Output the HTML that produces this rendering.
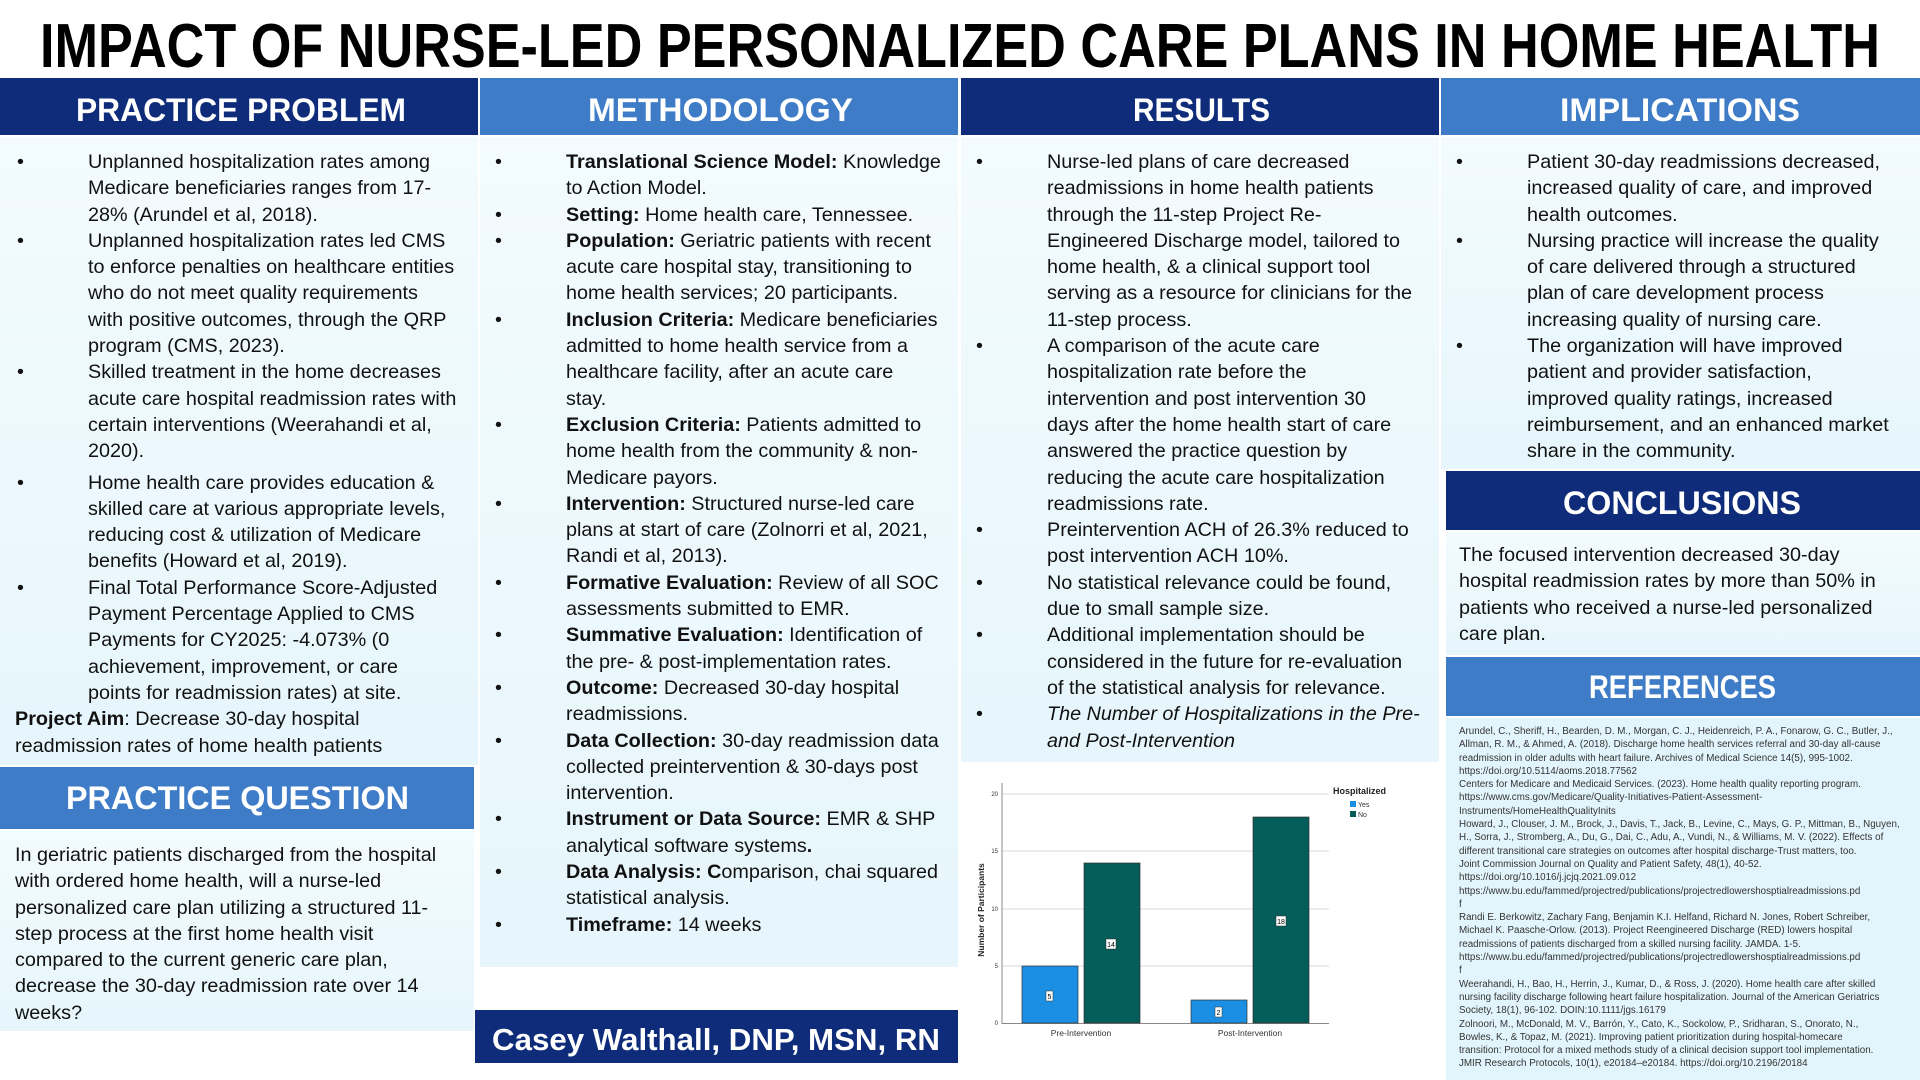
<!DOCTYPE html>
<html><head><meta charset="utf-8">
<style>
*{margin:0;padding:0;box-sizing:border-box}
body{width:1920px;height:1080px;background:#fff;position:relative;overflow:hidden;font-family:"Liberation Sans",Arial,sans-serif;color:#111}
.abs{position:absolute}
.panel{position:absolute;background:linear-gradient(180deg,#f3fbfe,#e6f6fc)}
.col{position:absolute;font-size:19.8px;line-height:26.3px;white-space:nowrap}
.it{position:relative;padding-left:86px}
.it::before{content:"•";position:absolute;left:15px;top:0}
.plain{padding-left:15px}
</style></head><body>
<svg class="abs" style="left:0;top:0" width="1920" height="1080">
<text x="40" y="67" font-family="Liberation Sans" font-weight="bold" font-size="62" textLength="1840" lengthAdjust="spacingAndGlyphs">IMPACT OF NURSE-LED PERSONALIZED CARE PLANS IN HOME HEALTH</text>
</svg>
<div class="abs" style="left:0;top:78px;width:478px;height:57px;background:#0e2c79"></div>
<div class="abs" style="left:480px;top:78px;width:478px;height:57px;background:#3f7cc8"></div>
<div class="abs" style="left:961px;top:78px;width:478px;height:57px;background:#0e2c79"></div>
<div class="abs" style="left:1441px;top:78px;width:479px;height:57px;background:#3f7cc8"></div>
<div class="panel" style="left:0;top:137px;width:478px;height:628px"></div>
<div class="abs" style="left:0;top:767px;width:474px;height:62px;background:#3f7cc8"></div>
<div class="panel" style="left:0;top:831px;width:474px;height:200px"></div>
<div class="panel" style="left:480px;top:137px;width:478px;height:830px"></div>
<div class="abs" style="left:475px;top:1010px;width:483px;height:53px;background:#0e2c79"></div>
<div class="panel" style="left:961px;top:137px;width:478px;height:625px"></div>
<div class="abs" style="left:967px;top:765px;width:472px;height:295px;background:#fff"></div>
<div class="panel" style="left:1441px;top:137px;width:479px;height:332px"></div>
<div class="abs" style="left:1446px;top:471px;width:474px;height:59px;background:#0e2c79"></div>
<div class="panel" style="left:1446px;top:532px;width:474px;height:123px"></div>
<div class="abs" style="left:1446px;top:657px;width:474px;height:59px;background:#3f7cc8"></div>
<div class="panel" style="left:1446px;top:718px;width:474px;height:362px;background:#e3f5fc"></div>

<svg class="abs" style="left:0;top:0" width="1920" height="1080" font-family="Liberation Sans" font-weight="bold" fill="#fff">
<text x="76" y="121" font-size="32" textLength="330" lengthAdjust="spacingAndGlyphs">PRACTICE PROBLEM</text>
<text x="588" y="121" font-size="32" textLength="265" lengthAdjust="spacingAndGlyphs">METHODOLOGY</text>
<text x="1133" y="121" font-size="32" textLength="137" lengthAdjust="spacingAndGlyphs">RESULTS</text>
<text x="1560" y="121" font-size="32" textLength="240" lengthAdjust="spacingAndGlyphs">IMPLICATIONS</text>
<text x="66" y="809" font-size="32" textLength="343" lengthAdjust="spacingAndGlyphs">PRACTICE QUESTION</text>
<text x="1563" y="514" font-size="32" textLength="238" lengthAdjust="spacingAndGlyphs">CONCLUSIONS</text>
<text x="1589" y="698" font-size="32" textLength="187" lengthAdjust="spacingAndGlyphs">REFERENCES</text>
<text x="492" y="1050" font-size="31" textLength="448" lengthAdjust="spacingAndGlyphs">Casey Walthall, DNP, MSN, RN</text>
</svg>

<div class="col" style="left:2px;top:149px">
<div class="it">Unplanned hospitalization rates among<br>Medicare beneficiaries ranges from 17-<br>28% (Arundel et al, 2018).</div>
<div class="it">Unplanned hospitalization rates led CMS<br>to enforce penalties on healthcare entities<br>who do not meet quality requirements<br>with positive outcomes, through the QRP<br>program (CMS, 2023).</div>
<div class="it">Skilled treatment in the home decreases<br>acute care hospital readmission rates with<br>certain interventions (Weerahandi et al,<br>2020).</div>
<div class="it" style="margin-top:5px">Home health care provides education &amp;<br>skilled care at various appropriate levels,<br>reducing cost &amp; utilization of Medicare<br>benefits (Howard et al, 2019).</div>
<div class="it">Final Total Performance Score-Adjusted<br>Payment Percentage Applied to CMS<br>Payments for CY2025: -4.073% (0<br>achievement, improvement, or care<br>points for readmission rates) at site.</div>
<div class="plain" style="padding-left:13px"><b>Project Aim</b>: Decrease 30-day hospital<br>readmission rates of home health patients</div>
</div>

<div class="col" style="left:0;top:842px;padding-left:15px">In geriatric patients discharged from the hospital<br>with ordered home health, will a nurse-led<br>personalized care plan utilizing a structured 11-<br>step process at the first home health visit<br>compared to the current generic care plan,<br>decrease the 30-day readmission rate over 14<br>weeks?</div>

<div class="col" style="left:480px;top:149px">
<div class="it"><b>Translational Science Model:</b> Knowledge<br>to Action Model.</div>
<div class="it"><b>Setting:</b> Home health care, Tennessee.</div>
<div class="it"><b>Population:</b> Geriatric patients with recent<br>acute care hospital stay, transitioning to<br>home health services; 20 participants.</div>
<div class="it"><b>Inclusion Criteria:</b> Medicare beneficiaries<br>admitted to home health service from a<br>healthcare facility, after an acute care<br>stay.</div>
<div class="it"><b>Exclusion Criteria:</b> Patients admitted to<br>home health from the community &amp; non-<br>Medicare payors.</div>
<div class="it"><b>Intervention:</b> Structured nurse-led care<br>plans at start of care (Zolnorri et al, 2021,<br>Randi et al, 2013).</div>
<div class="it"><b>Formative Evaluation:</b> Review of all SOC<br>assessments submitted to EMR.</div>
<div class="it"><b>Summative Evaluation:</b> Identification of<br>the pre- &amp; post-implementation rates.</div>
<div class="it"><b>Outcome:</b> Decreased 30-day hospital<br>readmissions.</div>
<div class="it"><b>Data Collection:</b> 30-day readmission data<br>collected preintervention &amp; 30-days post<br>intervention.</div>
<div class="it"><b>Instrument or Data Source:</b> EMR &amp; SHP<br>analytical software systems<b>.</b></div>
<div class="it"><b>Data Analysis: C</b>omparison, chai squared<br>statistical analysis.</div>
<div class="it"><b>Timeframe:</b> 14 weeks</div>
</div>

<div class="col" style="left:961px;top:149px">
<div class="it">Nurse-led plans of care decreased<br>readmissions in home health patients<br>through the 11-step Project Re-<br>Engineered Discharge model, tailored to<br>home health, &amp; a clinical support tool<br>serving as a resource for clinicians for the<br>11-step process.</div>
<div class="it">A comparison of the acute care<br>hospitalization rate before the<br>intervention and post intervention 30<br>days after the home health start of care<br>answered the practice question by<br>reducing the acute care hospitalization<br>readmissions rate.</div>
<div class="it">Preintervention ACH of 26.3% reduced to<br>post intervention ACH 10%.</div>
<div class="it">No statistical relevance could be found,<br>due to small sample size.</div>
<div class="it">Additional implementation should be<br>considered in the future for re-evaluation<br>of the statistical analysis for relevance.</div>
<div class="it"><i>The Number of Hospitalizations in the Pre-<br>and Post-Intervention</i></div>
</div>

<div class="col" style="left:1441px;top:149px">
<div class="it">Patient 30-day readmissions decreased,<br>increased quality of care, and improved<br>health outcomes.</div>
<div class="it">Nursing practice will increase the quality<br>of care delivered through a structured<br>plan of care development process<br>increasing quality of nursing care.</div>
<div class="it">The organization will have improved<br>patient and provider satisfaction,<br>improved quality ratings, increased<br>reimbursement, and an enhanced market<br>share in the community.</div>
</div>

<div class="col" style="left:1446px;top:542px;padding-left:13px">The focused intervention decreased 30-day<br>hospital readmission rates by more than 50% in<br>patients who received a nurse-led personalized<br>care plan.</div>

<div class="col" style="left:1459px;top:725px;font-size:9.8px;line-height:13.3px;color:#333">Arundel, C., Sheriff, H., Bearden, D. M., Morgan, C. J., Heidenreich, P. A., Fonarow, G. C., Butler, J.,<br>Allman, R. M., &amp; Ahmed, A. (2018). Discharge home health services referral and 30-day all-cause<br>readmission in older adults with heart failure. Archives of Medical Science 14(5), 995-1002.<br>https://doi.org/10.5114/aoms.2018.77562<br>Centers for Medicare and Medicaid Services. (2023). Home health quality reporting program.<br>https://www.cms.gov/Medicare/Quality-Initiatives-Patient-Assessment-<br>Instruments/HomeHealthQualityInits<br>Howard, J., Clouser, J. M., Brock, J., Davis, T., Jack, B., Levine, C., Mays, G. P., Mittman, B., Nguyen,<br>H., Sorra, J., Stromberg, A., Du, G., Dai, C., Adu, A., Vundi, N., &amp; Williams, M. V. (2022). Effects of<br>different transitional care strategies on outcomes after hospital discharge-Trust matters, too.<br>Joint Commission Journal on Quality and Patient Safety, 48(1), 40-52.<br>https://doi.org/10.1016/j.jcjq.2021.09.012<br>https://www.bu.edu/fammed/projectred/publications/projectredlowershosptialreadmissions.pd<br>f<br>Randi E. Berkowitz, Zachary Fang, Benjamin K.I. Helfand, Richard N. Jones, Robert Schreiber,<br>Michael K. Paasche-Orlow. (2013). Project Reengineered Discharge (RED) lowers hospital<br>readmissions of patients discharged from a skilled nursing facility. JAMDA. 1-5.<br>https://www.bu.edu/fammed/projectred/publications/projectredlowershosptialreadmissions.pd<br>f<br>Weerahandi, H., Bao, H., Herrin, J., Kumar, D., &amp; Ross, J. (2020). Home health care after skilled<br>nursing facility discharge following heart failure hospitalization. Journal of the American Geriatrics<br>Society, 18(1), 96-102. DOIN:10.1111/jgs.16179<br>Zolnoori, M., McDonald, M. V., Barrón, Y., Cato, K., Sockolow, P., Sridharan, S., Onorato, N.,<br>Bowles, K., &amp; Topaz, M. (2021). Improving patient prioritization during hospital-homecare<br>transition: Protocol for a mixed methods study of a clinical decision support tool implementation.<br>JMIR Research Protocols, 10(1), e20184–e20184. https://doi.org/10.2196/20184</div>

<svg class="abs" style="left:0;top:0" width="1920" height="1080" font-family="Liberation Sans">
<g stroke="#d8d8d8" stroke-width="1">
<line x1="1002" y1="794" x2="1329" y2="794"/>
<line x1="1002" y1="851" x2="1329" y2="851"/>
<line x1="1002" y1="909" x2="1329" y2="909"/>
<line x1="1002" y1="966" x2="1329" y2="966"/>
</g>
<line x1="1002" y1="783" x2="1002" y2="1024" stroke="#888"/>
<line x1="1002" y1="1023.5" x2="1329" y2="1023.5" stroke="#888"/>
<g font-size="6" fill="#333" text-anchor="end">
<text x="998" y="796">20</text><text x="998" y="853">15</text><text x="998" y="911">10</text><text x="998" y="968">5</text><text x="998" y="1025">0</text>
</g>
<text transform="translate(984,910) rotate(-90)" font-size="8.5" font-weight="bold" text-anchor="middle" fill="#222">Number of Participants</text>
<g stroke="#333" stroke-width="0.7">
<rect x="1022" y="966" width="56" height="57" fill="#1a8fe3"/>
<rect x="1084" y="863" width="56" height="160" fill="#045d58"/>
<rect x="1191" y="1000" width="56" height="23" fill="#1a8fe3"/>
<rect x="1253" y="817" width="56" height="206" fill="#045d58"/>
</g>
<g font-size="7" text-anchor="middle">
<rect x="1046" y="991" width="7" height="10" fill="#fff" stroke="#333" stroke-width="0.5"/><text x="1049.5" y="999">5</text>
<rect x="1106" y="939" width="10" height="10" fill="#fff" stroke="#333" stroke-width="0.5"/><text x="1111" y="947">14</text>
<rect x="1215" y="1007" width="7" height="10" fill="#fff" stroke="#333" stroke-width="0.5"/><text x="1218.5" y="1015">2</text>
<rect x="1276" y="916" width="10" height="10" fill="#fff" stroke="#333" stroke-width="0.5"/><text x="1281" y="924">18</text>
</g>
<g font-size="8.5" fill="#333" text-anchor="middle">
<text x="1081" y="1036">Pre-Intervention</text><text x="1250" y="1036">Post-Intervention</text>
</g>
<text x="1333" y="794" font-size="9" font-weight="bold" fill="#222">Hospitalized</text>
<rect x="1350" y="801" width="6" height="6" fill="#1a8fe3"/><text x="1358" y="807" font-size="7" fill="#333">Yes</text>
<rect x="1350" y="811" width="6" height="6" fill="#045d58"/><text x="1358" y="817" font-size="7" fill="#333">No</text>
</svg>
</body></html>
